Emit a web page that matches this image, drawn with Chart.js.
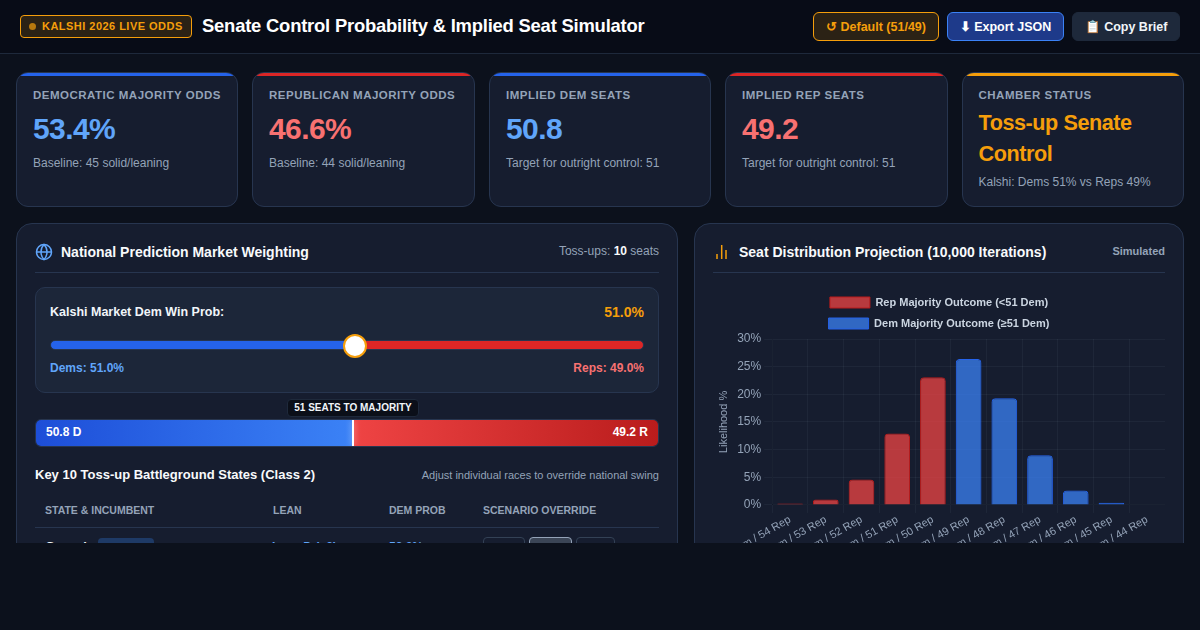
<!DOCTYPE html>
<html>
<head>
<meta charset="utf-8">
<title>Senate Control Simulator</title>
<script src="https://cdn.jsdelivr.net/npm/chart.js@4"></script>
<style>
* { box-sizing: border-box; margin: 0; padding: 0; }
html, body { width: 1200px; height: 630px; overflow: hidden; background: #0c111c; font-family: "Liberation Sans", Arial, sans-serif; color: #f1f5f9; }
.abs { position: absolute; white-space: nowrap; }
header { position: absolute; left: 0; top: 0; width: 1200px; height: 54px; background: #080c17; border-bottom: 1px solid #1e293b; }
.badge { left: 20px; top: 15px; width: 172px; height: 23px; border: 1px solid #f59e0b; border-radius: 4px; background: rgba(245,158,11,.15); color: #f59e0b; font-size: 11px; font-weight: 700; letter-spacing: .47px; line-height: 21px; padding-left: 21px; }
.badge i { position: absolute; left: 8px; top: 7px; width: 7px; height: 7px; border-radius: 50%; background: #f59e0b; opacity: .7; }
h1 { left: 202px; top: 14px; font-size: 18.4px; line-height: 24px; font-weight: 700; color: #fff; letter-spacing: -.2px; }
.btn { top: 12px; height: 29px; border-radius: 6px; font-size: 12.5px; font-weight: 700; line-height: 28px; text-align: center; }
.b1 { left: 813px; width: 126px; border: 1px solid #f59e0b; background: rgba(245,158,11,.15); color: #f59e0b; }
.b2 { left: 947px; width: 117px; border: 1px solid #3b82f6; background: #1e3a8a; color: #fff; }
.b3 { left: 1072px; width: 108px; border: 1px solid #1e293b; background: #1e293b; color: #f1f5f9; }
.card { position: absolute; top: 72px; height: 135px; background: #161d2f; border: 1px solid #27354f; border-radius: 12px; overflow: hidden; }
.card u { position: absolute; left: 0; top: 0; width: 100%; height: 3px; }
.card .k { position: absolute; left: 16px; top: 16px; font-size: 11.5px; font-weight: 700; letter-spacing: .5px; color: #94a3b8; white-space: nowrap; }
.card .v { position: absolute; left: 16px; top: 38px; font-size: 30px; line-height: 36px; font-weight: 700; letter-spacing: -.6px; white-space: nowrap; }
.card .s { position: absolute; left: 16px; top: 83px; font-size: 12px; color: #94a3b8; white-space: nowrap; }
.blue { color: #60a5fa; } .red { color: #f87171; } .amber { color: #f59e0b; }
#clip { position: absolute; left: 0; top: 0; width: 1200px; height: 543px; overflow: hidden; }
.panel { position: absolute; top: 223px; height: 400px; background: #161d2f; border: 1px solid #27354f; border-radius: 16px; }
h2 { font-size: 14px; font-weight: 700; color: #f8fafc; }
.rule { height: 1px; background: #27354f; }
.th { top: 504px; font-size: 10.5px; font-weight: 700; color: #94a3b8; }
.tbtn { top: 537px; height: 26px; border: 1px solid #334155; border-radius: 4px; background: #161d2f; }
</style>
</head>
<body>
<header>
  <div class="abs badge"><i></i>KALSHI 2026 LIVE ODDS</div>
  <h1 class="abs">Senate Control Probability &amp; Implied Seat Simulator</h1>
  <div class="abs btn b1">↺ Default (51/49)</div>
  <div class="abs btn b2">⬇ Export JSON</div>
  <div class="abs btn b3">📋 Copy Brief</div>
</header>

<div class="card" style="left:16px;width:222px"><u style="background:#2563eb"></u><div class="k">DEMOCRATIC MAJORITY ODDS</div><div class="v blue">53.4%</div><div class="s">Baseline: 45 solid/leaning</div></div>
<div class="card" style="left:252px;width:223px"><u style="background:#dc2626"></u><div class="k">REPUBLICAN MAJORITY ODDS</div><div class="v red">46.6%</div><div class="s">Baseline: 44 solid/leaning</div></div>
<div class="card" style="left:489px;width:222px"><u style="background:#2563eb"></u><div class="k">IMPLIED DEM SEATS</div><div class="v blue">50.8</div><div class="s">Target for outright control: 51</div></div>
<div class="card" style="left:725px;width:223px"><u style="background:#dc2626"></u><div class="k">IMPLIED REP SEATS</div><div class="v red">49.2</div><div class="s">Target for outright control: 51</div></div>
<div class="card" style="left:962px;width:222px"><u style="background:#f59e0b"></u><div class="k" style="left:15.5px">CHAMBER STATUS</div>
  <div class="v amber" style="font-size:21.6px;line-height:31px;top:34px;left:15.5px;white-space:normal;width:190px;letter-spacing:-.43px">Toss-up Senate Control</div>
  <div class="s" style="top:102px;left:15.5px">Kalshi: Dems 51% vs Reps 49%</div></div>

<div id="clip">
  <div class="panel" style="left:16px;width:662px"></div>
  <svg class="abs" style="left:35px;top:243px" width="18" height="18" viewBox="0 0 24 24" fill="none" stroke="#60a5fa" stroke-width="2"><circle cx="12" cy="12" r="10"/><path d="M2 12h20M12 2c3 3 4 6 4 10s-1 7-4 10c-3-3-4-6-4-10s1-7 4-10z"/></svg>
  <h2 class="abs" style="left:61px;top:244px">National Prediction Market Weighting</h2>
  <div class="abs" style="right:541px;top:244px;font-size:12px;color:#94a3b8">Toss-ups: <b style="color:#f8fafc">10</b> seats</div>
  <div class="abs rule" style="left:35px;top:272px;width:624px"></div>

  <div class="abs" style="left:35px;top:287px;width:624px;height:106px;background:#1c2639;border:1px solid #27354f;border-radius:10px"></div>
  <div class="abs" style="left:50px;top:305px;font-size:12.5px;font-weight:700;color:#f1f5f9">Kalshi Market Dem Win Prob:</div>
  <div class="abs amber" style="right:556px;top:304px;font-size:14px;font-weight:700">51.0%</div>
  <div class="abs" style="left:50px;top:340px;width:594px;height:10px;border-radius:5px;border:1px solid #27354f;background:linear-gradient(90deg,#2563eb 51%,#dc2626 51%)"></div>
  <div class="abs" style="left:343px;top:334px;width:24px;height:24px;border-radius:50%;background:#fff;border:2px solid #f59e0b"></div>
  <div class="abs blue" style="left:50px;top:361px;font-size:12px;font-weight:700">Dems: 51.0%</div>
  <div class="abs red" style="right:556px;top:361px;font-size:12px;font-weight:700">Reps: 49.0%</div>

  <div class="abs" style="left:35px;top:419px;width:624px;height:28px;border:1px solid #27354f;border-radius:6px;overflow:hidden">
    <div style="position:absolute;left:0;top:0;height:100%;width:50.8%;background:linear-gradient(90deg,#1d4ed8,#3b82f6)"></div>
    <div style="position:absolute;left:50.8%;top:0;height:100%;width:49.2%;background:linear-gradient(90deg,#ef4444,#b91c1c)"></div>
    <div style="position:absolute;left:316px;top:0;height:100%;width:2px;background:#fff;box-shadow:0 0 6px rgba(255,255,255,.6)"></div>
  </div>
  <div class="abs" style="left:287px;top:399px;width:132px;height:18px;background:#0b0f19;border:1px solid #1e293b;border-radius:4px;text-align:center;font-size:10px;font-weight:700;line-height:16px;color:#f1f5f9">51 SEATS TO MAJORITY</div>
  <div class="abs" style="left:46px;top:425px;font-size:12px;font-weight:700;color:#fff">50.8 D</div>
  <div class="abs" style="right:552px;top:425px;font-size:12px;font-weight:700;color:#fff">49.2 R</div>

  <div class="abs" style="left:35px;top:467px;font-size:13px;font-weight:700;color:#f8fafc">Key 10 Toss-up Battleground States (Class 2)</div>
  <div class="abs" style="right:541px;top:469px;font-size:11px;color:#94a3b8">Adjust individual races to override national swing</div>
  <div class="abs th" style="left:45px">STATE &amp; INCUMBENT</div>
  <div class="abs th" style="left:273px">LEAN</div>
  <div class="abs th" style="left:389px">DEM PROB</div>
  <div class="abs th" style="left:483px">SCENARIO OVERRIDE</div>
  <div class="abs rule" style="left:35px;top:527px;width:624px"></div>
  <div class="abs" style="left:45px;top:539px;font-size:13px;font-weight:700">Georgia</div>
  <div class="abs" style="left:98px;top:538px;width:56px;height:20px;background:#1e3a66;border-radius:4px"></div>
  <div class="abs blue" style="left:272px;top:540px;font-size:12px;font-weight:700">Lean D (+2)</div>
  <div class="abs blue" style="left:389px;top:540px;font-size:12px;font-weight:700">58.0%</div>
  <div class="abs tbtn" style="left:483px;width:42px"></div>
  <div class="abs tbtn" style="left:529px;width:43px;background:#3b4556;border-color:#94a3b8"></div>
  <div class="abs tbtn" style="left:576px;width:39px"></div>

  <div class="panel" style="left:694px;width:490px"></div>
  <svg class="abs" style="left:713px;top:243px" width="18" height="18" viewBox="0 0 18 18" fill="none" stroke="#f59e0b" stroke-width="1.5"><path d="M4 16v-5M8.7 16V2M13 16V7"/></svg>
  <h2 class="abs" style="left:739px;top:244px">Seat Distribution Projection (10,000 Iterations)</h2>
  <div class="abs" style="right:35px;top:245px;font-size:11px;font-weight:700;color:#94a3b8">Simulated</div>
  <div class="abs rule" style="left:713px;top:272px;width:452px"></div>
  <div class="abs" style="left:713px;top:287px;width:452px;height:279px"><canvas id="seatChart"></canvas></div>
</div>

<script>
const seatLabels = ['46 Dem / 54 Rep', '47 Dem / 53 Rep', '48 Dem / 52 Rep', '49 Dem / 51 Rep', '50 Dem / 50 Rep', '51 Dem / 49 Rep',
    '52 Dem / 48 Rep', '53 Dem / 47 Rep', '54 Dem / 46 Rep', '55 Dem / 45 Rep', '56 Dem / 44 Rep'];
const repOutcome = [0.25, 1.0, 4.6, 12.9, 23.1, null, null, null, null, null, null];
const demOutcome = [null, null, null, null, null, 26.4, 19.3, 9.0, 2.6, 0.4, 0];
const yTicks = [0, 5, 10, 15, 20, 25, 30];

Chart.defaults.font.family = '"Liberation Sans", Arial, sans-serif';
Chart.defaults.animation = false;

new Chart(document.getElementById('seatChart'), {
    type: 'bar',
    data: {
        labels: seatLabels,
        datasets: [
            { label: 'Rep Majority Outcome (<51 Dem)', data: repOutcome, backgroundColor: 'rgba(239, 68, 68, 0.75)', borderColor: '#b91c1c', borderWidth: 1, borderRadius: 4 },
            { label: 'Dem Majority Outcome (≥51 Dem)', data: demOutcome, backgroundColor: 'rgba(59, 130, 246, 0.75)', borderColor: '#2563eb', borderWidth: 1, borderRadius: 4 }
        ]
    },
    options: {
        responsive: true,
        maintainAspectRatio: false,
        plugins: {
            legend: { labels: { color: '#cbd5e1', font: { size: 11, weight: 'bold' } } }
        },
        scales: {
            x: {
                stacked: true,
                grid: { color: 'rgba(148, 163, 184, 0.07)' },
                ticks: { color: '#94a3b8', font: { size: 11 }, padding: 0, minRotation: 30, maxRotation: 30, autoSkip: false }
            },
            y: {
                stacked: true,
                min: 0,
                max: 30,
                afterBuildTicks: axis => { axis.ticks = yTicks.map(v => ({ value: v })); },
                grid: { color: 'rgba(148, 163, 184, 0.07)' },
                title: { display: true, text: 'Likelihood %', color: '#94a3b8', font: { size: 11 } },
                ticks: { color: '#94a3b8', font: { size: 12 }, callback: v => v + '%' }
            }
        }
    }
});
</script>
</body>
</html>
